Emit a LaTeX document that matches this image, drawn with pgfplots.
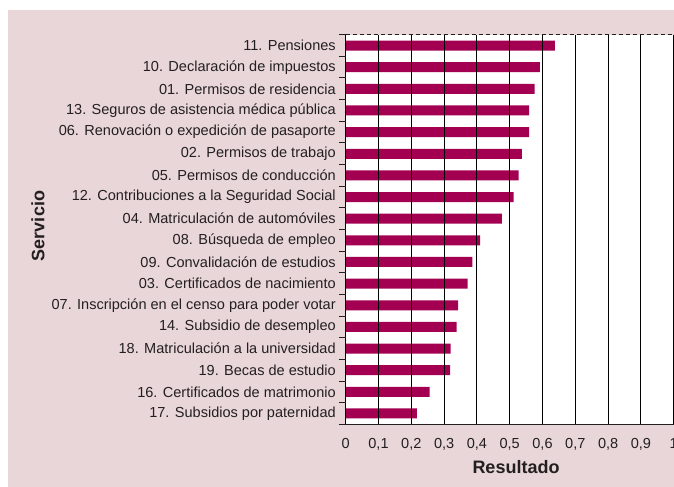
\documentclass[border=0pt]{standalone}
\usepackage{pgfplots}
\pgfplotsset{compat=1.18}
\usepackage{fontspec}
\setmainfont{Liberation Sans}
\definecolor{bgpink}{RGB}{233,214,217}
\definecolor{barmag}{RGB}{164,0,82}
\definecolor{txt}{RGB}{35,31,32}
\begin{document}
\begin{tikzpicture}
\fill[bgpink] (6pt,-7.5pt) rectangle (510pt,-370pt);
\begin{axis}[
  at={(259.275pt,-318.225pt)}, anchor=south west,
  scale only axis, width=246pt, height=292.2pt,
  xmin=0, xmax=1, ymin=-0.5, ymax=17.5,
  axis background/.style={fill=white},
  axis line style={draw=none},
  axis on top,
  clip=false,
  xmajorgrids, grid style={black, line width=0.75pt},
  xtick={0,0.1,0.2,0.3,0.4,0.5,0.6,0.7,0.8,0.9,1},
  xticklabels={0,{0,1},{0,2},{0,3},{0,4},{0,5},{0,6},{0,7},{0,8},{0,9},1},
  ytick={0,1,2,3,4,5,6,7,8,9,10,11,12,13,14,15,16,17},
  yticklabels={
    17. Subsidios por paternidad,
    16. Certificados de matrimonio,
    19. Becas de estudio,
    18. Matriculación a la universidad,
    14. Subsidio de desempleo,
    07. Inscripción en el censo para poder votar,
    03. Certificados de nacimiento,
    09. Convalidación de estudios,
    08. Búsqueda de empleo,
    04. Matriculación de automóviles,
    12. Contribuciones a la Seguridad Social,
    05. Permisos de conducción,
    02. Permisos de trabajo,
    06. Renovación o expedición de pasaporte,
    13. Seguros de asistencia médica pública,
    01. Permisos de residencia,
    10. Declaración de impuestos,
    11. Pensiones},
  minor ytick={-0.5,0.5,...,17.5},
  tick align=outside,
  major tick length=0pt,
  minor tick length=5.25pt,
  tick style={txt, line width=0.75pt},
  yticklabel style={anchor=east, inner sep=0pt, xshift=-7.3pt, font=\fontsize{10.9}{12}\selectfont, text=txt},
  xticklabel style={anchor=north, inner sep=0pt, yshift=-10.3pt, font=\fontsize{10.9}{12}\selectfont, text=txt},
]
\addplot[xbar, bar width=7.5pt, fill=barmag, draw=none] coordinates {
  (0.217,0) (0.256,1) (0.318,2) (0.320,3) (0.338,4) (0.343,5)
  (0.372,6) (0.386,7) (0.410,8) (0.476,9) (0.512,10) (0.527,11)
  (0.537,12) (0.559,13) (0.559,14) (0.576,15) (0.592,16) (0.638,17)
};
\draw[txt, line width=0.75pt] (rel axis cs:0,0) -- (rel axis cs:0,1);
\draw[txt, line width=0.75pt] (rel axis cs:0,0) -- (rel axis cs:1.05,0);
\draw[txt, line width=0.75pt, dash pattern=on 3pt off 2.25pt] (rel axis cs:0,1) -- (rel axis cs:1.05,1);
\end{axis}
\node[font=\bfseries\fontsize{13.5}{15}\selectfont, text=txt] at (387pt,-350.25pt) {Resultado};
\node[font=\bfseries\fontsize{13.5}{15}\selectfont, text=txt, rotate=90] at (28.5pt,-169.5pt) {Servicio};
\pgfresetboundingbox
\path (0pt,0pt) rectangle (505.5pt,-364.5pt);
\end{tikzpicture}
\end{document}
